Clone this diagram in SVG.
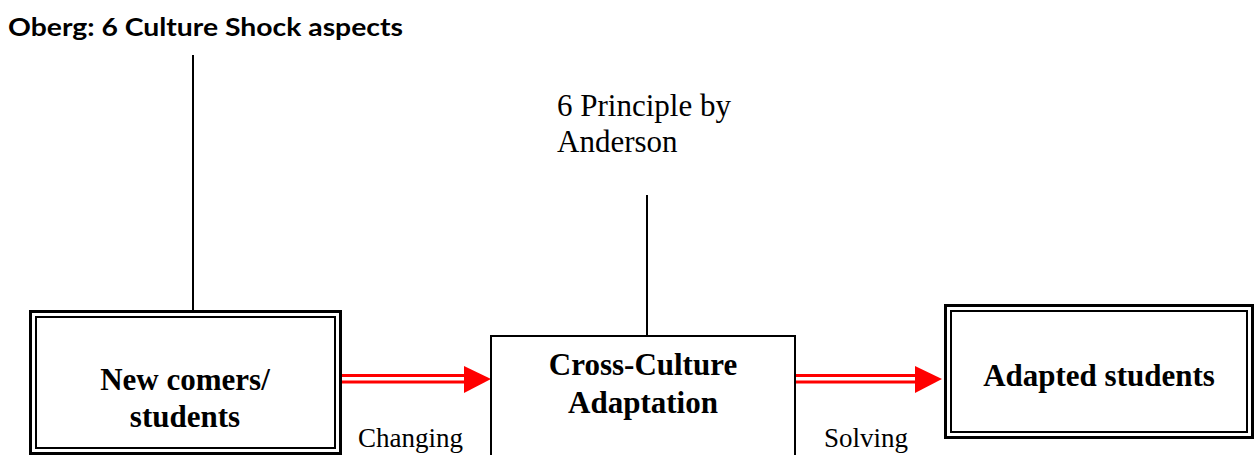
<svg xmlns="http://www.w3.org/2000/svg" width="1255" height="455" viewBox="0 0 1255 455">
<style>
.outer{fill:none;stroke:#000;stroke-width:3}
.inner{fill:none;stroke:#000;stroke-width:2}
.single{fill:#fff;stroke:#000;stroke-width:2}
.node{font-family:"Liberation Serif",serif;font-weight:bold;font-size:31px;text-anchor:middle;fill:#000}
.lbl{font-family:"Liberation Serif",serif;font-size:27px;fill:#000}
.big{font-family:"Liberation Serif",serif;font-size:31px;fill:#000}
.line{stroke:#000;stroke-width:2;fill:none}
.red{stroke:#f00;stroke-width:3;fill:none}
</style>
<rect width="1255" height="455" fill="#fff"/>
<g id="connectors">
<line class="line" x1="193" y1="55" x2="193" y2="312"/>
<line class="line" x1="647" y1="195" x2="647" y2="336"/>
<g id="arrow1">
<line class="red" x1="340" y1="375.5" x2="466" y2="375.5"/>
<line class="red" x1="340" y1="382" x2="466" y2="382"/>
<polygon points="464,366 491,379 464,393" fill="#f00"/>
</g>
<g id="arrow2">
<line class="red" x1="795" y1="375.5" x2="917" y2="375.5"/>
<line class="red" x1="795" y1="382" x2="917" y2="382"/>
<polygon points="915,366 942,379 915,393" fill="#f00"/>
</g>
</g>
<g id="oberg">
<text x="8" y="36" font-family="Lato,sans-serif" font-weight="bold" font-size="24" textLength="395" lengthAdjust="spacingAndGlyphs">Oberg: 6 Culture Shock aspects</text>
</g>
<g id="anderson">
<text class="big" x="557" y="116">6 Principle by</text>
<text class="big" x="557" y="152">Anderson</text>
</g>
<g id="newcomers">
<rect class="outer" x="30.5" y="311.5" width="310" height="142"/>
<rect class="inner" x="36" y="317" width="299" height="131"/>
<text class="node" x="185" y="390">New comers/</text>
<text class="node" x="185" y="427">students</text>
</g>
<g id="adaptation">
<rect class="single" x="491" y="336" width="304" height="125"/>
<text class="node" x="643" y="375">Cross-Culture</text>
<text class="node" x="643" y="413">Adaptation</text>
</g>
<g id="adapted">
<rect class="outer" x="945.5" y="305.5" width="307" height="132"/>
<rect class="inner" x="951" y="311" width="296" height="121"/>
<text class="node" x="1099" y="386">Adapted students</text>
</g>
<g id="labels">
<text class="lbl" x="358" y="447">Changing</text>
<text class="lbl" x="824" y="447">Solving</text>
</g>
</svg>
